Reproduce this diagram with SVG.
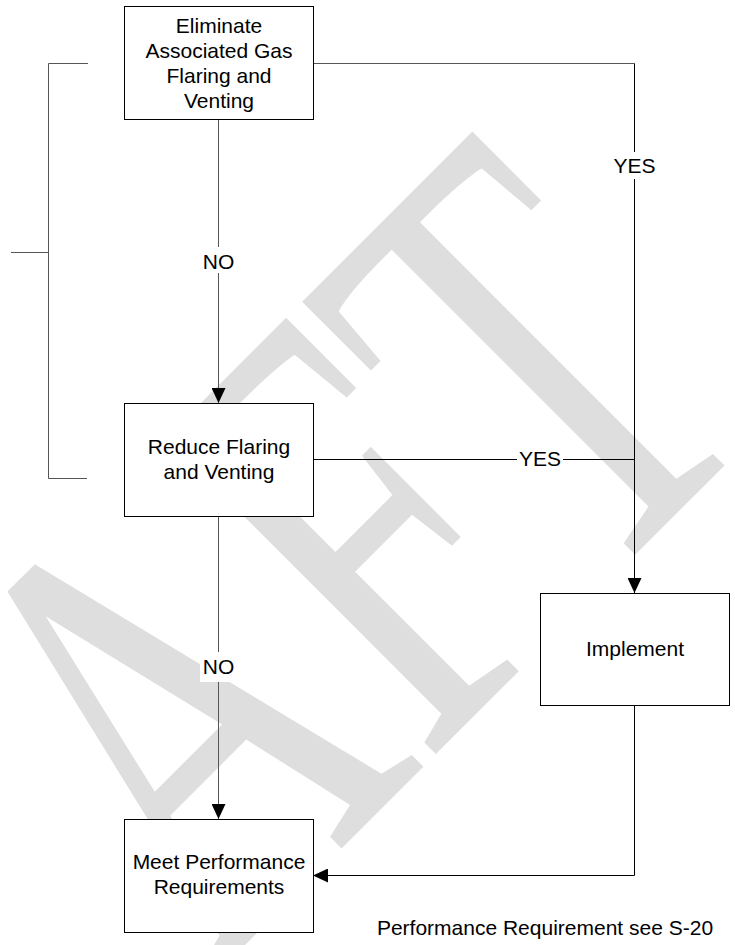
<svg xmlns="http://www.w3.org/2000/svg" width="735" height="945" viewBox="0 0 735 945">
<style>
.box{fill:#fff;stroke:#000;stroke-width:1}
.t{font-family:"Liberation Sans",Arial,sans-serif;font-size:21px;fill:#000;text-anchor:middle}
.c{fill:none;stroke:#000;stroke-width:1}
.g{fill:none;stroke:#555;stroke-width:1}
.wm{font-family:"Liberation Serif","Times New Roman",serif;font-size:633px;fill:#dedede}
</style>
<defs>
<marker id="ah" viewBox="0 0 15 14" refX="15" refY="7" markerWidth="15" markerHeight="14" markerUnits="userSpaceOnUse" orient="auto">
<path d="M0,0 L15,7 L0,14 Z" fill="#000"/>
</marker>
</defs>
<rect width="735" height="945" fill="#fff"/>
<g id="watermark" transform="translate(680,510) rotate(-45) scale(0.66,1)">
<text class="wm" x="193.4" y="0" text-anchor="end">AFT</text>
</g>
<g id="bracket">
<path class="g" d="M88,63.5 H48.5 V478.5 H87"/>
<path class="g" d="M11,252.5 H48.5"/>
</g>
<g id="connectors">
<path class="g" d="M313,63.5 H634.5"/>
<path class="c" d="M634.5,63.5 V593" marker-end="url(#ah)"/>
<path class="g" d="M218.5,119 V403" marker-end="url(#ah)"/>
<path class="c" d="M313,459.5 H634.5"/>
<path class="g" d="M218.5,516 V819" marker-end="url(#ah)"/>
<path class="c" d="M634.5,705 V875.5 H313" marker-end="url(#ah)"/>
</g>
<g id="labels">
<rect x="612" y="152" width="45" height="27" fill="#fff"/>
<text class="t" x="634.5" y="173">YES</text>
<rect x="517" y="448" width="46" height="24" fill="#fff"/>
<text class="t" x="540" y="466">YES</text>
<rect x="200" y="247" width="37" height="26" fill="#fff"/>
<text class="t" x="218.5" y="269">NO</text>
<rect x="200" y="652" width="37" height="30" fill="#fff"/>
<text class="t" x="218.5" y="674">NO</text>
</g>
<g id="eliminate">
<rect class="box" x="124.5" y="6.5" width="189" height="113"/>
<text class="t" x="219" y="33">Eliminate</text>
<text class="t" x="219" y="58">Associated Gas</text>
<text class="t" x="219" y="83">Flaring and</text>
<text class="t" x="219" y="108">Venting</text>
</g>
<g id="reduce">
<rect class="box" x="124.5" y="403.5" width="189" height="113"/>
<text class="t" x="219" y="454">Reduce Flaring</text>
<text class="t" x="219" y="479">and Venting</text>
</g>
<g id="implement">
<rect class="box" x="540.5" y="593.5" width="189" height="112"/>
<text class="t" x="635" y="656">Implement</text>
</g>
<g id="meet">
<rect class="box" x="124.5" y="819.5" width="189" height="113"/>
<text class="t" x="219" y="869">Meet Performance</text>
<text class="t" x="219" y="894">Requirements</text>
</g>
<g id="note">
<text class="t" x="545" y="935">Performance Requirement see S-20</text>
</g>
</svg>
